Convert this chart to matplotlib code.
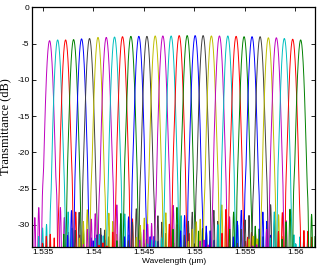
import matplotlib
matplotlib.use("Agg")
import matplotlib.pyplot as plt
import numpy as np

plt.rcParams['axes.unicode_minus'] = False

# channel centre wavelengths (um) and peak transmittance (dB)
centers = [1.53565, 1.53645, 1.53724, 1.53803, 1.53882, 1.53961, 1.54045, 1.54127,
           1.54209, 1.54288, 1.54371, 1.54450, 1.54530, 1.54612, 1.54688, 1.54770,
           1.54850, 1.54929, 1.55008, 1.55087, 1.55169, 1.55249, 1.55332, 1.55414,
           1.55493, 1.55572, 1.55652, 1.55734, 1.55813, 1.55892, 1.55975, 1.56054]
peaks_db = [-4.6, -4.5, -4.5, -4.45, -4.35, -4.3, -4.15, -4.15,
            -4.1, -4.05, -4.0, -4.0, -4.0, -3.95, -3.95, -3.95,
            -3.9, -3.9, -3.9, -3.9, -3.95, -3.95, -3.95, -4.0,
            -4.05, -4.05, -4.05, -4.2, -4.2, -4.3, -4.4, -4.5]
# crosstalk floor level of each channel (dB), rough reading
floor_db = [-24, -25, -24.5, -25.5, -24, -25, -24.5, -24,
            -25, -24.5, -24, -25.5, -24.5, -25, -24, -24.5,
            -25, -24, -25.5, -24.5, -24, -25, -24.5, -24,
            -25, -24.5, -24, -25, -24.5, -24, -25, -24.5]
colors = [(0.75, 0, 0.75), (0, 0.75, 0.75), (1, 0, 0), (0, 0.5, 0),
          (0, 0, 1), (0.25, 0.25, 0.25), (0.75, 0.75, 0)]
xticks = [1.535, 1.54, 1.545, 1.55, 1.555, 1.56]
yticks = [0, -5, -10, -15, -20, -25, -30]

# passband shape parameters
width = 0.00029     # gaussian width (um)
side_period = 0.00042
side_decay = 0.0010

wl = np.linspace(1.5335, 1.5625, 6000)

fig = plt.figure(figsize=(3.2, 2.73), dpi=100)
ax = fig.add_axes([0.101, 0.0963, 0.883, 0.877])

for i, (c0, p, fl) in enumerate(zip(centers, peaks_db, floor_db)):
    dx = wl - c0
    main = 10 ** (p / 10) * np.exp(-(dx / width) ** 2)
    ripple = np.sin(np.pi * dx / side_period) ** 2 * (0.55 + 0.45 * np.cos(2.3 * np.pi * dx / side_period + i))
    side = 10 ** (fl / 10) * ripple / (1 + (dx / side_decay) ** 2)
    t = 10 * np.log10(main + side + 1e-12)
    ax.plot(wl, t, color=colors[i % len(colors)], lw=0.7)

ax.set_xlim(1.53394, 1.56195)
ax.set_ylim(-33, 0)
ax.set_xticks(xticks)
ax.set_xticklabels([f"{v:g}" for v in xticks])
ax.set_yticks(yticks)
ax.set_yticklabels([f"{v:g}" for v in yticks])
ax.tick_params(direction='in', length=3, width=0.6, top=True, right=True,
               labelsize=6, pad=2)
for lab in ax.get_xticklabels() + ax.get_yticklabels():
    lab.set_family('Liberation Sans')
for s in ax.spines.values():
    s.set_linewidth(0.9)

ax.set_xlabel('Wavelength (\u03bcm)', fontsize=6, family='Liberation Sans', labelpad=1)
ax.set_ylabel('Transmittance (dB)', fontsize=9, family='Liberation Serif')
ax.yaxis.set_label_coords(-0.075, 0.5)

fig.savefig('out.png', dpi=100)
